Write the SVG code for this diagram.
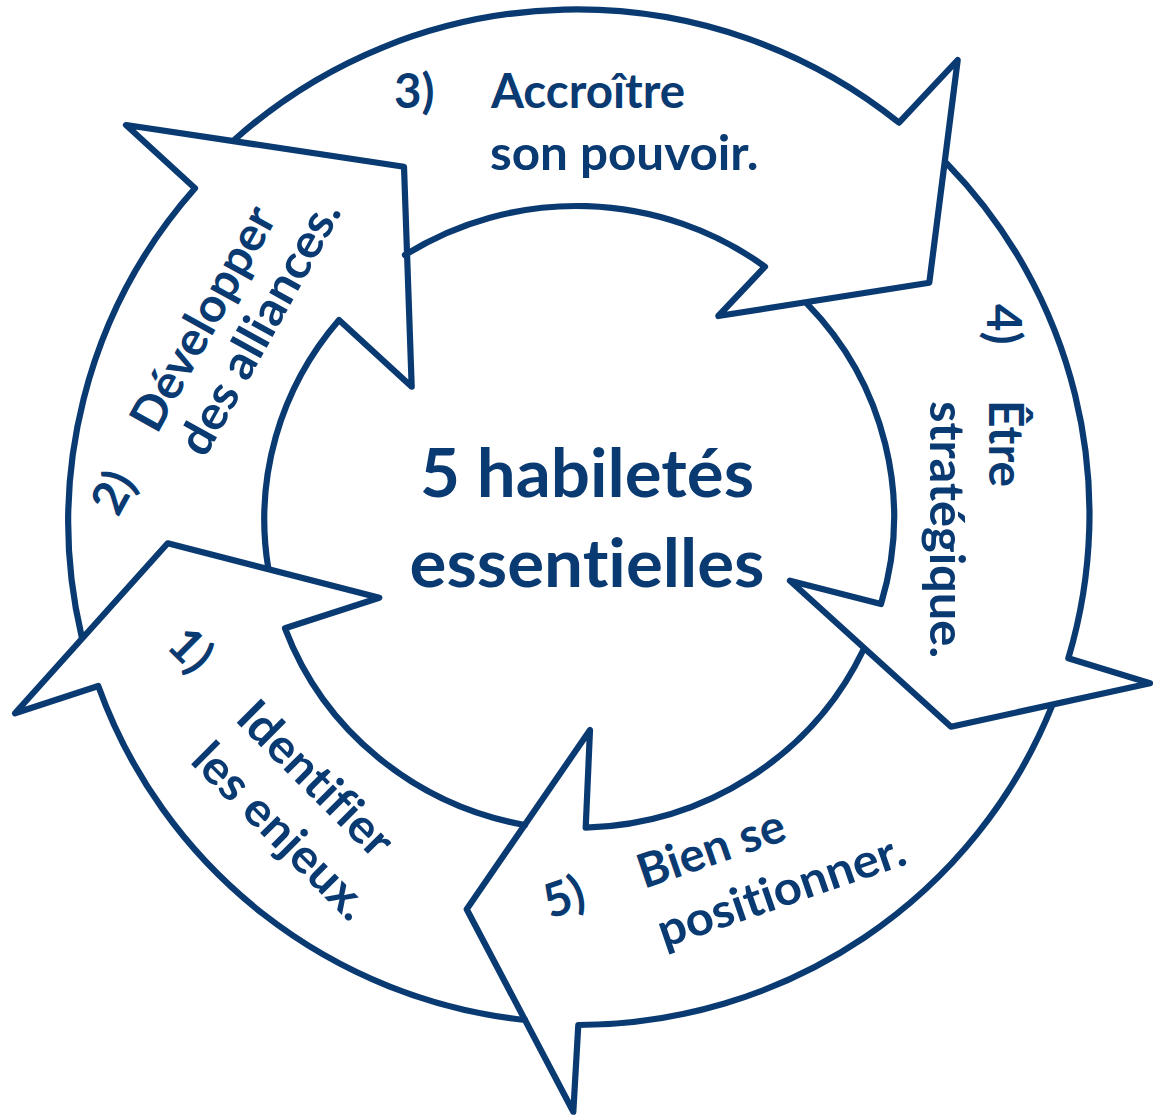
<svg xmlns="http://www.w3.org/2000/svg" width="1153" height="1117" viewBox="0 0 1153 1117">
<style>
.ar{fill:none;stroke:#0a3a72;stroke-width:6.2;stroke-linejoin:round;stroke-linecap:round}
.t{font-family:Lato,"Open Sans","Liberation Sans",sans-serif;font-weight:700;fill:#0a3a72;font-size:47.4px;font-variant-ligatures:none;font-feature-settings:"liga" 0,"clig" 0}
.c{font-size:67.6px;text-anchor:middle}
</style>
<rect width="1153" height="1117" fill="#ffffff"/>
<g id="step1">
<path class="ar" d="M525,1020 A511,506 0 0 1 98.3,686 L15,713.3 L167.7,543.3 L379.3,597.7 L285,628.3 A317,309 0 0 0 525,825"/>
<text class="t" transform="translate(165,647) rotate(45)">1)</text>
<text class="t" transform="translate(234,720) rotate(45)" textLength="198.6" lengthAdjust="spacingAndGlyphs">Identifier</text>
<text class="t" transform="translate(189,762) rotate(45)" textLength="228" lengthAdjust="spacingAndGlyphs">les enjeux.</text>
</g>
<g id="step2">
<path class="ar" d="M81.7,636.7 A511,506 0 0 1 195,188.3 L126,125 L404,166.7 L411.7,386.7 L339,320 A317,309 0 0 0 268.3,568.3"/>
<text class="t" transform="translate(118,518) rotate(-61)">2)</text>
<text class="t" transform="translate(157,435) rotate(-61)" textLength="248.5" lengthAdjust="spacingAndGlyphs">Développer</text>
<text class="t" transform="translate(205,459) rotate(-61)" textLength="283.3" lengthAdjust="spacingAndGlyphs">des alliances.</text>
</g>
<g id="step3">
<path class="ar" d="M235,139.3 A511,506 0 0 1 899,122.7 L957.7,60 L929.3,282.7 L718.3,316 L765,266.7 A317,309 0 0 0 405,255"/>
<text class="t" x="394" y="108">3)</text>
<text class="t" x="491" y="108" textLength="194.2" lengthAdjust="spacingAndGlyphs">Accroître</text>
<text class="t" x="490" y="170" textLength="268.5" lengthAdjust="spacingAndGlyphs">son pouvoir.</text>
</g>
<g id="step4">
<path class="ar" d="M946.7,163.3 A511,506 0 0 1 1068.3,658.3 L1150,683.3 L951,726.7 L790,580.7 L881,604 A317,309 0 0 0 806.7,303.3"/>
<text class="t" transform="translate(987,304) rotate(90)">4)</text>
<text class="t" transform="translate(989,400) rotate(90)" textLength="87.2" lengthAdjust="spacingAndGlyphs">Être</text>
<text class="t" transform="translate(930,401) rotate(90)" textLength="257" lengthAdjust="spacingAndGlyphs">stratégique.</text>
</g>
<g id="step5">
<path class="ar" d="M1051.7,706.7 A511,506 0 0 1 578.3,1025 L573.3,1111.7 L466.7,909.3 L590,730 L585.7,827.7 A317,309 0 0 0 863.3,650"/>
<text class="t" transform="translate(550,919) rotate(-19)">5)</text>
<text class="t" transform="translate(644,889) rotate(-19)" textLength="153" lengthAdjust="spacingAndGlyphs">Bien se</text>
<text class="t" transform="translate(664,948) rotate(-19)" textLength="259.3" lengthAdjust="spacingAndGlyphs">positionner.</text>
</g>
<g id="center">
<text class="t c" x="587" y="497" textLength="334" lengthAdjust="spacingAndGlyphs">5 habiletés</text>
<text class="t c" x="587" y="587" textLength="355" lengthAdjust="spacingAndGlyphs">essentielles</text>
</g>
</svg>
